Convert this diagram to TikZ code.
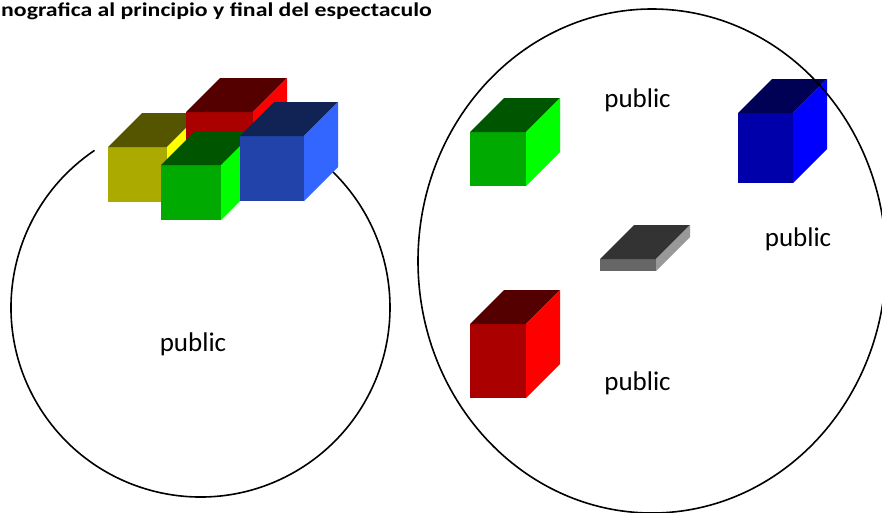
\documentclass[tikz,border=0pt]{standalone}
\usepackage{fontspec}
\setmainfont{Carlito}
\newfontfamily\titlefont[FakeStretch=1.22]{Carlito}
\usepackage{xcolor}
\usetikzlibrary{positioning, calc}
\definecolor{yelfront}{RGB}{170,170,0}
\definecolor{yeltop}{RGB}{85,85,0}
\definecolor{yelside}{RGB}{255,255,0}
\definecolor{redfront}{RGB}{170,0,0}
\definecolor{redtop}{RGB}{85,0,0}
\definecolor{redside}{RGB}{255,0,0}
\definecolor{grnfront}{RGB}{0,170,0}
\definecolor{grntop}{RGB}{0,85,0}
\definecolor{grnside}{RGB}{0,255,0}
\definecolor{blufront}{RGB}{34,68,170}
\definecolor{blutop}{RGB}{17,34,85}
\definecolor{bluside}{RGB}{51,102,255}
\definecolor{navyfront}{RGB}{0,0,170}
\definecolor{navytop}{RGB}{0,0,85}
\definecolor{navyside}{RGB}{0,0,255}
\definecolor{slabfront}{RGB}{102,102,102}
\definecolor{slabtop}{RGB}{51,51,51}
\definecolor{slabside}{RGB}{153,153,153}
% box: front top-left x, y, width, height, depth, front, top, side
\newcommand{\drawbox}[8]{%
  \fill[#6] (#1,#2) rectangle ++(#3,#4);
  \fill[#7] (#1,#2) -- ++(#5,-#5) -- ++(#3,0) -- ++(-#5,#5) -- cycle;
  \fill[#8] ({#1+#3},#2) -- ++(#5,-#5) -- ++(0,#4) -- ++(-#5,#5) -- cycle;
}

\begin{document}
\begin{tikzpicture}[x=1pt, y=-1pt,
  outline/.style={draw=black, line width=1.6pt},
  publabel/.style={anchor=base, inner sep=0pt, font=\fontsize{27}{30}\selectfont},
  titlelabel/.style={anchor=base west, inner sep=0pt, font=\titlefont\fontsize{19.5}{22}\selectfont\bfseries}]
\useasboundingbox (0,0) rectangle (882,512);

% Title
\node[titlelabel] (title) at (1,16) {nografica al principio y final del espectaculo};

% Left stage: open circle under the pile of boxes
\coordinate (lc) at (200.5,307.5);
\draw[outline] ([shift={(236:189.5)}]lc) arc[start angle=236, end angle=-46, radius=189.5];

% Boxes piled at the start
\drawbox{108}{147}{59}{55}{34}{yelfront}{yeltop}{yelside}
\drawbox{186}{112}{67}{60}{34}{redfront}{redtop}{redside}
\drawbox{161}{165}{60}{55}{34}{grnfront}{grntop}{grnside}
\drawbox{240}{136}{64}{65}{34}{blufront}{blutop}{bluside}

\node[publabel] (lpub) at (193,351) {public};

% Right stage: boxes spread out at the end
\drawbox{470}{132}{56}{54}{34}{grnfront}{grntop}{grnside}
\drawbox{738}{113}{55}{70}{34}{navyfront}{navytop}{navyside}
\drawbox{600}{259}{56}{12}{34}{slabfront}{slabtop}{slabside}
\drawbox{470}{324}{56}{74}{34}{redfront}{redtop}{redside}

\coordinate (rc) at (652,261);
\draw[outline] (rc) ellipse[x radius=234, y radius=252];

\node[publabel] (rpubtop) at (637.5,107) {public};
\node[publabel] (rpubmid) at (798,246.7) {public};
\node[publabel] (rpubbot) at (637.5,390) {public};
\end{tikzpicture}
\end{document}
